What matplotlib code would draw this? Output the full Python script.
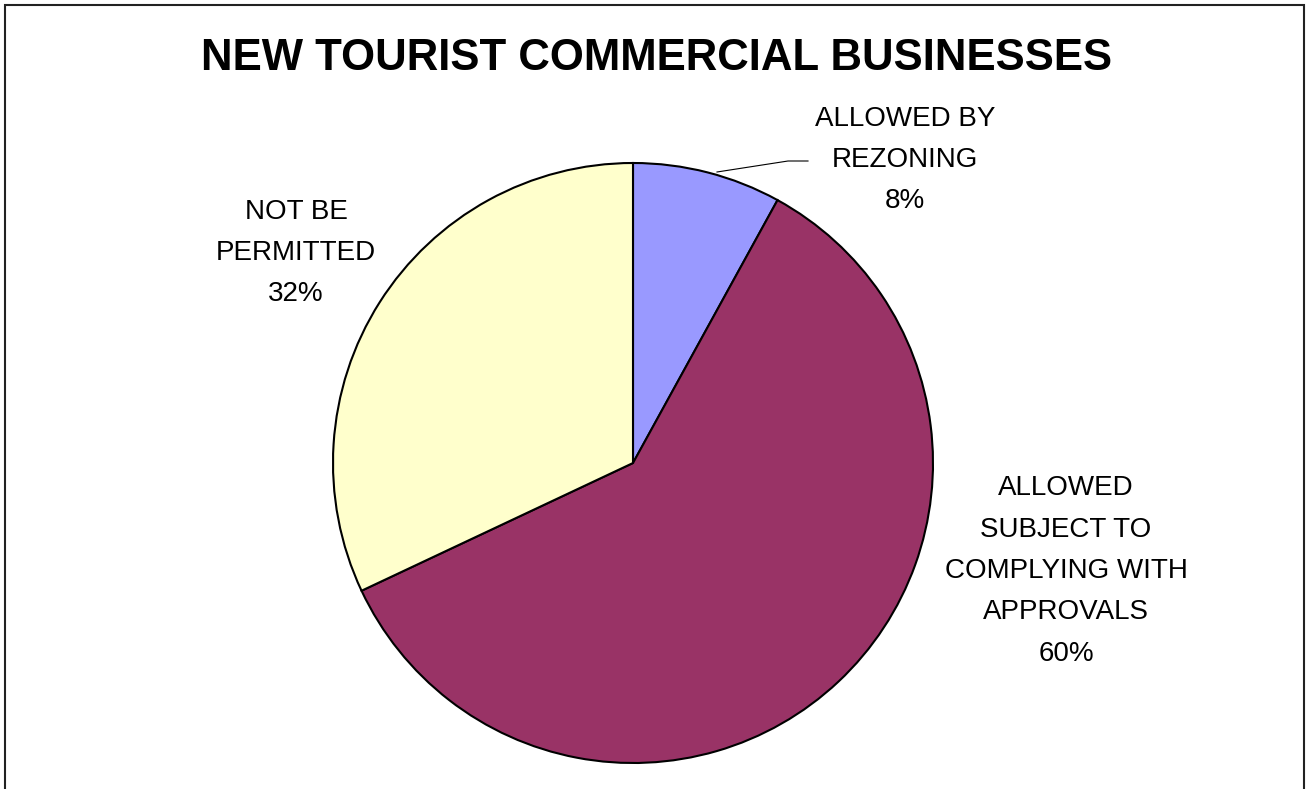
import matplotlib
matplotlib.use("Agg")
import matplotlib.pyplot as plt
from matplotlib.patches import Rectangle

categories = ["ALLOWED BY\nREZONING", "ALLOWED\nSUBJECT TO\nCOMPLYING WITH\nAPPROVALS", "NOT BE\nPERMITTED"]
values = [8, 60, 32]
colors = ["#9999FF", "#993366", "#FFFFCC"]
title = "NEW TOURIST COMMERCIAL BUSINESSES"

W, H = 1306, 789
fig = plt.figure(figsize=(W / 100, H / 100), dpi=100)
ax = fig.add_axes([0, 0, 1, 1])

cx, cy, r = 633, H - 463, 300
wedges, _ = ax.pie(values, colors=colors, startangle=90, counterclock=False,
                   center=(cx, cy), radius=r,
                   wedgeprops=dict(edgecolor="black", linewidth=1.5))
ax.set_xlim(0, W)
ax.set_ylim(0, H)
ax.set_aspect("equal")
ax.axis("off")

label_pos = [(905, H - 160), (1066, H - 571), (296, H - 253)]
for cat, v, (x, y) in zip(categories, values, label_pos):
    ax.text(x, y, f"{cat}\n{v}%", ha="center", va="center", fontsize=20,
            family="Liberation Sans", linespacing=1.77, color="black")

# leader line for the small slice
ax.plot([717, 788, 808], [H - 172, H - 161, H - 161], color="black", lw=0.8)

fig.text(657 / W, 1 - 59 / H, title, ha="center", va="center",
         fontsize=31.5, fontweight="bold", family="Liberation Sans")

fig.patches.append(Rectangle((5 / W, -0.05), 1299 / W, 1.05 - 5 / H,
                             transform=fig.transFigure, fill=False,
                             edgecolor="#222222", linewidth=1.5))

fig.savefig("out.png", dpi=100)
